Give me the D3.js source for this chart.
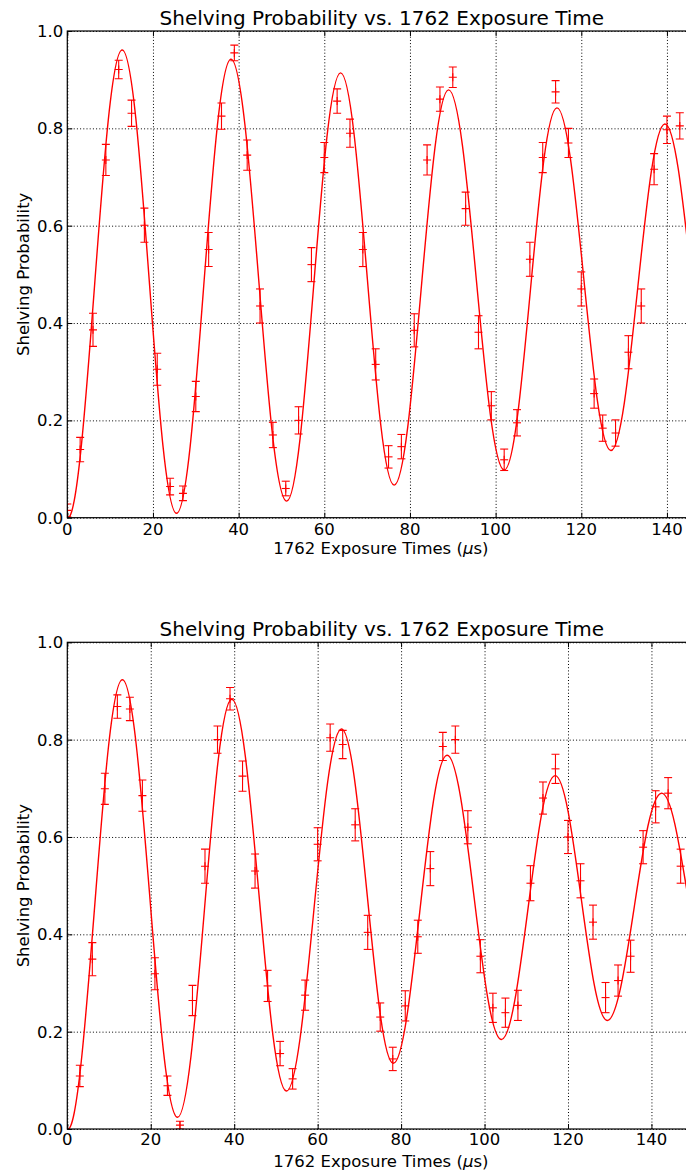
<!DOCTYPE html>
<html>
<head>
<meta charset="utf-8">
<script src="https://cdn.jsdelivr.net/npm/d3@7"></script>
<style>
  body { margin: 0; background: #fff; }
  svg { display: block; }
</style>
</head>
<body>
<div id="chart"></div>
<script>
// ---- data ----
const titleText = "Shelving Probability vs. 1762 Exposure Time";
const yLabelText = "Shelving Probability";
const xTicks = [0, 20, 40, 60, 80, 100, 120, 140];
const yTicks = [0, 0.2, 0.4, 0.6, 0.8, 1.0];

// top panel: measured points (time in us, probability, error)
const topTimes = [0, 3, 6, 9, 12, 15, 18, 21, 24, 27, 30, 33, 36, 39, 42, 45, 48, 51, 54, 57,
  60, 63, 66, 69, 72, 75, 78, 81, 84, 87, 90, 93, 96, 99, 102, 105, 108, 111, 114, 117,
  120, 123, 125, 128, 131, 134, 137, 140, 143];
const topProb = [0.015, 0.140, 0.386, 0.735, 0.921, 0.831, 0.601, 0.305, 0.064, 0.050,
  0.249, 0.551, 0.825, 0.955, 0.745, 0.435, 0.170, 0.060, 0.200, 0.520,
  0.740, 0.856, 0.790, 0.551, 0.315, 0.125, 0.146, 0.385, 0.735, 0.860,
  0.905, 0.635, 0.381, 0.230, 0.119, 0.195, 0.531, 0.740, 0.875, 0.770,
  0.470, 0.255, 0.184, 0.174, 0.340, 0.435, 0.716, 0.797, 0.805];
const topErr = [0.013, 0.025, 0.034, 0.032, 0.019, 0.027, 0.035, 0.033, 0.017, 0.015,
  0.031, 0.035, 0.027, 0.016, 0.031, 0.035, 0.026, 0.015, 0.028, 0.035,
  0.031, 0.025, 0.029, 0.035, 0.032, 0.023, 0.025, 0.034, 0.031, 0.025,
  0.021, 0.034, 0.034, 0.029, 0.022, 0.027, 0.035, 0.031, 0.023, 0.030,
  0.035, 0.030, 0.027, 0.027, 0.034, 0.035, 0.032, 0.028, 0.027];
// top panel: fitted curve
const topFitTimes = [-3.2, 0, 3.2, 6.4, 9.6, 12.8, 15.98, 19.15, 22.33, 25.5, 28.68, 31.85, 35.03, 38.2,
  41.45, 44.7, 47.95, 51.2, 54.35, 57.5, 60.65, 63.8, 66.93, 70.05, 73.18, 76.3,
  79.48, 82.65, 85.83, 89.0, 92.25, 95.5, 98.75, 102.0, 105.08, 108.15, 111.23, 114.3,
  117.45, 120.6, 123.75, 126.9, 130.05, 133.2, 136.35, 139.5, 142.65, 145.8, 148.95];
const topFitProb = [0.141, 0, 0.141, 0.481, 0.820, 0.961, 0.822, 0.485, 0.148, 0.009, 0.146, 0.476, 0.805, 0.942,
  0.809, 0.488, 0.167, 0.034, 0.163, 0.474, 0.785, 0.914, 0.790, 0.491, 0.191, 0.067,
  0.186, 0.473, 0.760, 0.879, 0.765, 0.489, 0.213, 0.098, 0.207, 0.470, 0.733, 0.842,
  0.739, 0.490, 0.241, 0.138, 0.236, 0.474, 0.711, 0.809, 0.716, 0.490, 0.264];

// bottom panel
const bottomTimes = [3, 6, 9, 12, 15, 18, 21, 24, 27, 30, 33, 36, 39, 42, 45, 48, 51, 54, 57, 60,
  63, 66, 69, 72, 75, 78, 81, 84, 87, 90, 93, 96, 99, 102, 105, 108, 111, 114, 117, 120,
  123, 126, 129, 132, 135, 138, 141, 144, 147];
const bottomProb = [0.109, 0.349, 0.699, 0.868, 0.863, 0.685, 0.319, 0.089, 0.008, 0.264,
  0.540, 0.800, 0.884, 0.725, 0.530, 0.294, 0.155, 0.103, 0.275, 0.585,
  0.804, 0.790, 0.625, 0.404, 0.230, 0.144, 0.253, 0.395, 0.535, 0.786,
  0.800, 0.620, 0.355, 0.249, 0.239, 0.254, 0.505, 0.680, 0.740, 0.600,
  0.510, 0.425, 0.270, 0.305, 0.355, 0.579, 0.662, 0.690, 0.540];
const bottomErr = [0.022, 0.034, 0.032, 0.024, 0.024, 0.032, 0.033, 0.020, 0.008, 0.031,
  0.035, 0.028, 0.023, 0.031, 0.035, 0.032, 0.025, 0.021, 0.031, 0.034,
  0.028, 0.029, 0.033, 0.035, 0.029, 0.024, 0.031, 0.034, 0.035, 0.029,
  0.028, 0.034, 0.034, 0.030, 0.030, 0.031, 0.036, 0.033, 0.030, 0.034,
  0.035, 0.035, 0.031, 0.032, 0.033, 0.034, 0.033, 0.032, 0.035];
const bottomFitTimes = [-3.3, 0, 3.3, 6.6, 9.9, 13.2, 16.5, 19.8, 23.1, 26.4, 29.65, 32.9, 36.15, 39.4,
  42.68, 45.95, 49.23, 52.5, 55.8, 59.1, 62.4, 65.7, 68.8, 71.9, 75.0, 78.1,
  81.33, 84.55, 87.78, 91.0, 94.25, 97.5, 100.75, 104.0, 107.23, 110.45, 113.68, 116.9,
  120.03, 123.15, 126.28, 129.4, 132.65, 135.9, 139.15, 142.4, 145.6, 148.8, 152.0];
const bottomFitProb = [0.135, 0, 0.135, 0.462, 0.788, 0.923, 0.791, 0.474, 0.156, 0.024, 0.150, 0.454, 0.757, 0.883,
  0.765, 0.481, 0.196, 0.078, 0.187, 0.450, 0.713, 0.822, 0.721, 0.479, 0.236, 0.135,
  0.228, 0.452, 0.675, 0.768, 0.682, 0.476, 0.270, 0.184, 0.263, 0.455, 0.647, 0.726,
  0.652, 0.475, 0.297, 0.223, 0.292, 0.457, 0.622, 0.690, 0.627, 0.475, 0.323];

// ---- layout ----
const W = 686, H = 1175;
const left = 67.3, right = 696.5;
const panels = [
  { times: topTimes, prob: topProb, err: topErr, fitT: topFitTimes, fitP: topFitProb,
    top: 31, bottom: 517.7, xMax: 146.9, tickBase: 17.5, labelBase: 36.5 },
  { times: bottomTimes, prob: bottomProb, err: bottomErr, fitT: bottomFitTimes, fitP: bottomFitProb,
    top: 642.3, bottom: 1129, xMax: 150.8, tickBase: 15.5, labelBase: 38 }
];

const svg = d3.select("#chart").append("svg")
  .attr("width", W)
  .attr("height", H)
  .attr("font-family", "DejaVu Sans, sans-serif");

const red = "#ff0000";

panels.forEach((p, i) => {
  const x = d3.scaleLinear().domain([0, p.xMax]).range([left, right]);
  const y = d3.scaleLinear().domain([0, 1]).range([p.bottom, p.top]);
  const h = p.bottom - p.top;
  const g = svg.append("g");

  g.append("clipPath").attr("id", "clip" + i)
    .append("rect")
    .attr("x", left).attr("y", p.top)
    .attr("width", right - left).attr("height", h);

  // dotted grid
  g.append("g")
    .attr("transform", "translate(0," + p.bottom + ")")
    .call(d3.axisBottom(x).tickValues(xTicks).tickSize(-h).tickFormat(""))
    .call(s => s.select(".domain").remove())
    .selectAll("line")
    .attr("stroke", "#000").attr("stroke-width", 1).attr("stroke-dasharray", "1,2.2");
  g.append("g")
    .attr("transform", "translate(" + left + ",0)")
    .call(d3.axisLeft(y).tickValues(yTicks).tickSize(-(right - left)).tickFormat(""))
    .call(s => s.select(".domain").remove())
    .selectAll("line")
    .attr("stroke", "#000").attr("stroke-width", 1).attr("stroke-dasharray", "1,2.2");

  // fitted curve
  const line = d3.line()
    .x((d, k) => x(p.fitT[k]))
    .y((d, k) => y(p.fitP[k]))
    .curve(d3.curveNatural);
  g.append("path")
    .datum(p.fitT)
    .attr("clip-path", "url(#clip" + i + ")")
    .attr("d", line)
    .attr("fill", "none")
    .attr("stroke", red)
    .attr("stroke-width", 1.4);

  // error bars with + markers
  const pts = g.append("g").attr("clip-path", "url(#clip" + i + ")")
    .selectAll("g")
    .data(p.times.map((t, k) => ({ t: t, v: p.prob[k], e: p.err[k] })))
    .enter().append("g")
    .attr("stroke", red)
    .attr("stroke-width", 1.1);
  pts.append("line")
    .attr("x1", d => x(d.t)).attr("x2", d => x(d.t))
    .attr("y1", d => y(d.v - d.e)).attr("y2", d => y(d.v + d.e));
  pts.append("line")
    .attr("x1", d => x(d.t) - 4).attr("x2", d => x(d.t) + 4)
    .attr("y1", d => y(d.v - d.e)).attr("y2", d => y(d.v - d.e));
  pts.append("line")
    .attr("x1", d => x(d.t) - 4).attr("x2", d => x(d.t) + 4)
    .attr("y1", d => y(d.v + d.e)).attr("y2", d => y(d.v + d.e));
  pts.append("line")
    .attr("x1", d => x(d.t) - 4).attr("x2", d => x(d.t) + 4)
    .attr("y1", d => y(d.v)).attr("y2", d => y(d.v));
  pts.append("line")
    .attr("x1", d => x(d.t)).attr("x2", d => x(d.t))
    .attr("y1", d => y(d.v) - 4).attr("y2", d => y(d.v) + 4);

  // inward ticks on all sides
  g.append("g").attr("transform", "translate(0," + p.bottom + ")")
    .call(d3.axisBottom(x).tickValues(xTicks).tickSize(-5).tickFormat(""))
    .call(s => s.select(".domain").remove());
  g.append("g").attr("transform", "translate(0," + p.top + ")")
    .call(d3.axisTop(x).tickValues(xTicks).tickSize(-5).tickFormat(""))
    .call(s => s.select(".domain").remove());
  g.append("g").attr("transform", "translate(" + left + ",0)")
    .call(d3.axisLeft(y).tickValues(yTicks).tickSize(-5).tickFormat(""))
    .call(s => s.select(".domain").remove());
  g.selectAll(".tick line").filter(function () { return !this.getAttribute("stroke-dasharray"); })
    .attr("stroke", "#000").attr("stroke-width", 1);

  // frame
  g.append("rect")
    .attr("x", left).attr("y", p.top)
    .attr("width", right - left).attr("height", h)
    .attr("fill", "none").attr("stroke", "#000").attr("stroke-width", 1.2);

  // tick labels
  g.append("g").selectAll("text")
    .data(xTicks).enter().append("text")
    .attr("x", d => x(d)).attr("y", p.bottom + p.tickBase)
    .attr("text-anchor", "middle").attr("font-size", "16.5px").attr("fill", "#000")
    .text(d => d);
  g.append("g").selectAll("text")
    .data(yTicks).enter().append("text")
    .attr("x", left - 4).attr("y", d => y(d)).attr("dy", "0.36em")
    .attr("text-anchor", "end").attr("font-size", "16.5px").attr("fill", "#000")
    .text(d => d3.format(".1f")(d));

  // title
  g.append("text")
    .attr("x", (left + right) / 2).attr("y", p.top - 6.5)
    .attr("text-anchor", "middle").attr("font-size", "20px")
    .text(titleText);

  // x label
  const xl = g.append("text")
    .attr("x", (left + right) / 2 - 1).attr("y", p.bottom + p.labelBase)
    .attr("text-anchor", "middle").attr("font-size", "16.5px");
  xl.append("tspan").text("1762 Exposure Times (");
  xl.append("tspan").attr("font-style", "italic").text("\u03bc");
  xl.append("tspan").text("s)");

  // y label
  g.append("text")
    .attr("transform", "translate(28.5," + ((p.top + p.bottom) / 2) + ") rotate(-90)")
    .attr("text-anchor", "middle").attr("font-size", "16.5px")
    .text(yLabelText);
});
</script>
</body>
</html>
